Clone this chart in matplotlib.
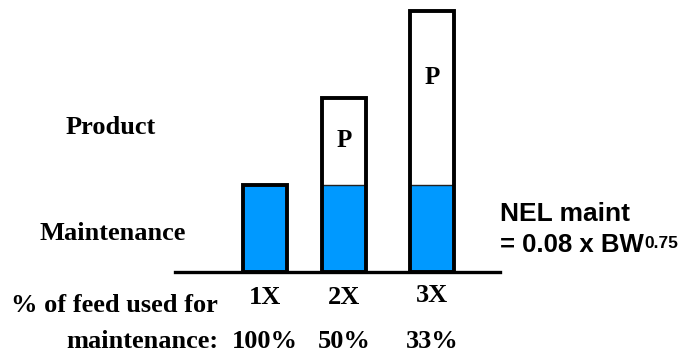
import matplotlib
matplotlib.use("Agg")
import matplotlib.pyplot as plt

# Feed intake as multiples of maintenance, split into maintenance and product
levels = ["1X", "2X", "3X"]
maintenance = [1.0, 1.0, 1.0]
product = [0.0, 1.0, 2.0]
product_labels = ["", "P", "P"]
pct_maint = ["100%", "50%", "33%"]

# layout: bar centres and heights of the "P" labels (axis units)
bar_pos = [0.0, 0.95, 2.0]
p_label_y = [0.0, 1.51, 2.23]

W, H = 685, 359
fig = plt.figure(figsize=(W / 100, H / 100), dpi=100)
fig.patch.set_facecolor("white")

# axes: baseline at pixel row 272, spanning columns 175..500
base_px = 272
left_px, right_px = 175, 500
unit_x = 83.5
unit_y = 87.0
ax = fig.add_axes([left_px / W, (H - base_px) / H, (right_px - left_px) / W, base_px / H])
ax.set_xlim((left_px - 265) / unit_x, (right_px - 265) / unit_x)
ax.set_ylim(0, base_px / unit_y)
ax.axis("off")

blue = "#0099FF"
bw = 0.53
ax.bar(bar_pos, maintenance, width=bw, color=blue, edgecolor="none", zorder=2)
ax.bar(bar_pos, product, bottom=maintenance, width=bw, color="white", edgecolor="none", zorder=2)
# thin separator between maintenance and product
for x, m, p in zip(bar_pos, maintenance, product):
    if p > 0:
        ax.plot([x - bw / 2, x + bw / 2], [m, m], color="#222222", lw=1.0, zorder=3)
# outline of each full bar
totals = [m + p for m, p in zip(maintenance, product)]
ax.bar(bar_pos, totals, width=bw, fill=False, edgecolor="black", linewidth=2.8, zorder=4, clip_on=False)
ax.axhline(0, color="black", lw=2.4, zorder=5, clip_on=False)

serif = dict(family="Liberation Serif", weight="bold", color="black")
sans = dict(family="Liberation Sans", weight="bold", color="black")

for x, y, lab in zip(bar_pos, p_label_y, product_labels):
    if lab:
        ax.text(x, y, lab, ha="center", va="center", fontsize=18, **serif)

def py(yp):
    return (base_px - yp) / unit_y

label_rows = [297, 297, 295]
for x, lv, pc, r in zip(bar_pos, levels, pct_maint, label_rows):
    ax.text(x, py(r), lv, ha="center", va="center", fontsize=19, clip_on=False, **serif)
    ax.text(x, py(341), pc, ha="center", va="center", fontsize=19, clip_on=False, **serif)

fig.text(111 / W, 1 - 128 / H, "Product", ha="center", va="center", fontsize=19, **serif)
fig.text(112.5 / W, 1 - 233 / H, "Maintenance", ha="center", va="center", fontsize=19, **serif)
fig.text(218 / W, 1 - 305 / H, "% of feed used for", ha="right", va="center", fontsize=19, **serif)
fig.text(218 / W, 1 - 341 / H, "maintenance:", ha="right", va="center", fontsize=19, **serif)

fig.text(500 / W, 1 - 214 / H, "NEL maint", ha="left", va="center", fontsize=19, **sans)
eq = fig.text(500 / W, 1 - 245 / H, "= 0.08 x BW", ha="left", va="center", fontsize=18.5, **sans)

# exponent placed right after the equation text
renderer = fig.canvas.get_renderer()
bb = eq.get_window_extent(renderer=renderer)
fig.text((bb.x1 + 1) / W, (bb.y1 - 3) / H, "0.75", ha="left", va="top", fontsize=12.5, **sans)

fig.savefig("out.png", dpi=100, facecolor="white")
